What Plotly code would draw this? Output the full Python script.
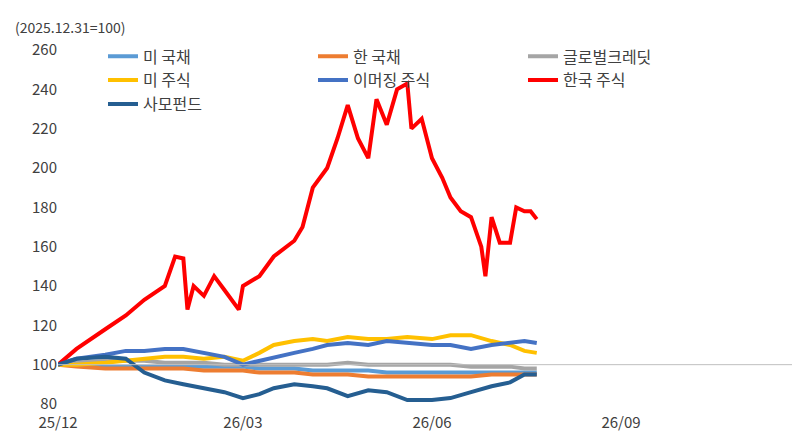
from __future__ import annotations

import pandas as pd
import plotly.graph_objects as go


_COLORS = {
    "미 국채": "#5B9BD5",  # light blue
    "한 국채": "#ED7D31",  # orange
    "글로벌크레딧": "#A5A5A5",  # gray
    "미 주식": "#FFC000",  # yellow
    "이머징 주식": "#4472C4",  # blue
    "한국 주식": "#FF0000",  # red
    "사모펀드": "#255E91",  # dark blue
}

# days since 2025-12-01
_DAYS = [0, 9, 23, 33, 42, 52, 61, 71, 81, 90, 98, 105, 115, 124, 131,
         141, 151, 160, 170, 182, 191, 201, 211, 220, 227, 233]

_SERIES = {
    "미 국채": [100, 100, 99, 99, 99, 99, 99, 99, 99, 99, 98, 98, 98, 97, 97,
              97, 97, 96, 96, 96, 96, 96, 96, 96, 96, 96],
    "한 국채": [100, 99, 98, 98, 98, 98, 98, 97, 97, 97, 96, 96, 96, 95, 95,
              95, 94, 94, 94, 94, 94, 94, 95, 95, 95, 95],
    "글로벌크레딧": [100, 101, 102, 102, 102, 101, 101, 101, 100, 100, 100, 100, 100, 100, 100,
               101, 100, 100, 100, 100, 100, 99, 99, 99, 98, 98],
    "미 주식": [100, 100, 101, 102, 103, 104, 104, 103, 104, 102, 106, 110, 112, 113, 112,
              114, 113, 113, 114, 113, 115, 115, 112, 110, 107, 106],
    "이머징 주식": [100, 103, 105, 107, 107, 108, 108, 106, 104, 100, 102, 104, 106, 108, 110,
               111, 110, 112, 111, 110, 110, 108, 110, 111, 112, 111],
    "사모펀드": [100, 103, 104, 103, 96, 92, 90, 88, 86, 83, 85, 88, 90, 89, 88,
             84, 87, 86, 82, 82, 83, 86, 89, 91, 95, 95],
}

_KOREA_DAYS = [0, 9, 23, 33, 42, 52, 57, 61, 63, 66, 71, 76, 81, 88, 90, 98, 105,
               115, 119, 124, 131, 136, 141, 146, 151, 155, 160, 165, 170, 172,
               177, 182, 187, 191, 196, 201, 206, 208, 211, 215, 220, 223, 227, 230, 233]
_KOREA = [100, 108, 118, 125, 133, 140, 155, 154, 128, 140, 135, 145, 138, 128, 140,
          145, 155, 163, 170, 190, 200, 215, 232, 215, 205, 235, 222, 240, 243, 220,
          225, 205, 195, 185, 178, 175, 160, 145, 175, 162, 162, 180, 178, 178, 174]


def build_figure():
    base = pd.Timestamp("2025-12-01")
    traces = []
    for name in _COLORS:
        if name == "한국 주식":
            days, vals = _KOREA_DAYS, _KOREA
        else:
            days, vals = _DAYS, _SERIES[name]
        traces.append(
            go.Scatter(
                x=[base + pd.Timedelta(days=d) for d in days],
                y=vals,
                mode="lines",
                name=name,
                line=dict(width=4, color=_COLORS[name]),
            )
        )
    fig = go.Figure(data=traces)
    fig.add_hline(y=100, line=dict(color="#BFBFBF", width=1))
    fig.update_layout(
        width=800,
        height=440,
        plot_bgcolor="white",
        paper_bgcolor="white",
        font=dict(family="Noto Sans CJK KR, Malgun Gothic", size=15, color="#404040"),
        margin=dict(l=50, r=0, t=42, b=44),
        legend=dict(
            orientation="h", x=0.06, y=1.03, xanchor="left", yanchor="top",
            entrywidth=165, font=dict(size=16), bgcolor="rgba(255,255,255,0)",
            tracegroupgap=0,
        ),
        xaxis=dict(
            range=["2025-12-01", "2026-12-01"],
            tickvals=["2025-12-01", "2026-03-01", "2026-06-01", "2026-09-01", "2026-12-01"],
            ticktext=["25/12", "26/03", "26/06", "26/09", "26/12"],
            showgrid=False, zeroline=False, ticklabelstandoff=8,
        ),
        yaxis=dict(
            range=[80, 260], dtick=20, showgrid=False, zeroline=False,
            ticks="", showline=False,
        ),
        annotations=[
            dict(text="(2025.12.31=100)", xref="paper", yref="paper", x=-0.06, y=1.1,
                 xanchor="left", yanchor="top", showarrow=False, font=dict(size=14)),
        ],
    )
    return fig


fig = build_figure()
fig.write_html("out.html")
